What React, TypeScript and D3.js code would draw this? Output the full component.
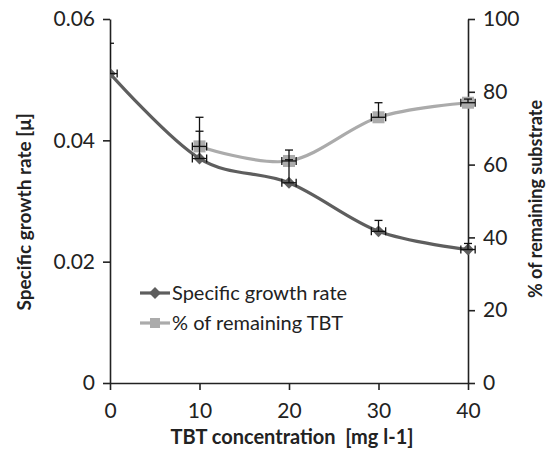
import React, { useEffect, useRef } from "react";
import * as d3 from "d3";

// TBT concentration (mg l-1)
const concentrations = [0, 10, 20, 30, 40];
// specific growth rate (left axis), error drawn upward only
const growthRate = [0.051, 0.037, 0.033, 0.025, 0.022];
const growthErr = [0.005, 0.0045, 0.0038, 0.0018, 0.001];
// % of remaining TBT (right axis)
const remaining = [null, 65, 61, 73, 77];
const remainingErr = [0, 8, 3, 4, 1];
const xErr = 0.8;

const xTicks = [0, 10, 20, 30, 40];
const leftTicks = [0, 0.02, 0.04, 0.06];
const rightTicks = [0, 20, 40, 60, 80, 100];

const FONT = "Lato, 'Open Sans', sans-serif";

export default function App() {
  const ref = useRef<SVGSVGElement>(null);

  useEffect(() => {
    const svg = d3.select(ref.current);
    svg.selectAll("*").remove();

    const left = 110, right = 468, top = 19, bottom = 383;
    const x = d3.scaleLinear().domain([0, 40]).range([left, right]);
    const yL = d3.scaleLinear().domain([0, 0.06]).range([bottom, top]);
    const yR = d3.scaleLinear().domain([0, 100]).range([bottom, top]);

    svg.append("defs").append("clipPath").attr("id", "plot")
      .append("rect").attr("x", left).attr("y", 0).attr("width", right - left + 20).attr("height", bottom);

    const axisCol = "#222";

    // x axis
    const xa = svg.append("g").attr("transform", `translate(0,${bottom})`)
      .call(d3.axisBottom(x).tickValues(xTicks).tickSize(7).tickSizeOuter(0).tickPadding(6));
    // left axis
    const la = svg.append("g").attr("transform", `translate(${left},0)`)
      .call(d3.axisLeft(yL).tickValues(leftTicks).tickSize(7).tickSizeOuter(0).tickPadding(8)
        .tickFormat(d => (d === 0 ? "0" : d3.format(".2f")(d as number))));
    // right axis
    const ra = svg.append("g").attr("transform", `translate(${right},0)`)
      .call(d3.axisRight(yR).tickValues(rightTicks).tickSize(7).tickSizeOuter(0).tickPadding(8));

    [xa, la, ra].forEach(g => {
      g.select(".domain").attr("stroke", axisCol).attr("stroke-width", 1.6);
      g.selectAll(".tick line").attr("stroke", axisCol).attr("stroke-width", 1.6);
      g.selectAll(".tick text").attr("font-family", FONT).attr("font-size", 21).attr("fill", "#222");
    });
    xa.selectAll(".tick text").attr("dy", "1.05em");

    const plot = svg.append("g").attr("clip-path", "url(#plot)");

    const line = d3.line<[number, number]>().curve(d3.curveCatmullRom.alpha(0));

    const growthPts: [number, number][] = concentrations.map((c, i) => [x(c), yL(growthRate[i])]);
    const remPts: [number, number][] = concentrations
      .map((c, i) => [c, remaining[i]] as [number, number | null])
      .filter(d => d[1] != null)
      .map(d => [x(d[0]), yR(d[1] as number)]);

    const dark = "#5e5e5e", light = "#ababab";

    plot.append("path").attr("d", line(remPts)).attr("fill", "none").attr("stroke", light).attr("stroke-width", 3.2);
    plot.append("path").attr("d", line(growthPts)).attr("fill", "none").attr("stroke", dark).attr("stroke-width", 3.2);

    const diamond = d3.symbol().type(d3.symbolDiamond2).size(90);
    remPts.forEach(p =>
      plot.append("rect").attr("x", p[0] - 6).attr("y", p[1] - 6).attr("width", 12).attr("height", 12).attr("fill", light));
    growthPts.forEach(p =>
      plot.append("path").attr("d", diamond()).attr("transform", `translate(${p[0]},${p[1]})`).attr("fill", dark));

    // error bars: plus direction vertically, both directions horizontally
    const errBar = (cx: number, cy: number, yTop: number) => {
      const g = plot.append("g").attr("stroke", "#111").attr("stroke-width", 1.3);
      const cap = 4;
      g.append("line").attr("x1", cx).attr("x2", cx).attr("y1", yTop).attr("y2", cy);
      g.append("line").attr("x1", cx - cap).attr("x2", cx + cap).attr("y1", yTop).attr("y2", yTop);
      const dx = x(xErr) - x(0);
      g.append("line").attr("x1", cx - dx).attr("x2", cx + dx).attr("y1", cy).attr("y2", cy);
      g.append("line").attr("x1", cx - dx).attr("x2", cx - dx).attr("y1", cy - cap).attr("y2", cy + cap);
      g.append("line").attr("x1", cx + dx).attr("x2", cx + dx).attr("y1", cy - cap).attr("y2", cy + cap);
    };

    concentrations.forEach((c, i) => {
      errBar(x(c), yL(growthRate[i]), yL(growthRate[i] + growthErr[i]));
      const r = remaining[i];
      if (r != null) errBar(x(c), yR(r), yR(r + remainingErr[i]));
    });

    // legend
    const lg = svg.append("g");
    const items = [
      { label: "Specific growth rate", color: dark, kind: "diamond" },
      { label: "% of remaining TBT", color: light, kind: "square" },
    ];
    items.forEach((it, i) => {
      const ly = 293 + i * 30;
      lg.append("line").attr("x1", 140).attr("x2", 170).attr("y1", ly).attr("y2", ly)
        .attr("stroke", it.color).attr("stroke-width", 3.2);
      if (it.kind === "diamond")
        lg.append("path").attr("d", diamond()).attr("transform", `translate(155,${ly})`).attr("fill", it.color);
      else
        lg.append("rect").attr("x", 150).attr("y", ly - 5).attr("width", 10).attr("height", 10).attr("fill", it.color);
      lg.append("text").attr("x", 172).attr("y", ly + 7).attr("font-family", FONT).attr("font-size", 20)
        .attr("fill", "#222").text(it.label);
    });

    // axis titles
    svg.append("text").attr("x", 292).attr("y", 444).attr("text-anchor", "middle")
      .style("white-space", "pre")
      .attr("font-family", FONT).attr("font-weight", "bold").attr("font-size", 20).attr("fill", "#222")
      .text("TBT concentration  [mg l-1]");
    svg.append("text").attr("transform", `translate(31,212) rotate(-90)`)
      .attr("text-anchor", "middle").attr("font-family", FONT).attr("font-weight", "bold")
      .attr("font-size", 19).attr("fill", "#222").text("Specific growth rate [\u03bc]");
    svg.append("text").attr("transform", `translate(542,199) rotate(-90)`)
      .attr("text-anchor", "middle").attr("font-family", FONT).attr("font-weight", "bold")
      .attr("font-size", 18).attr("fill", "#222").text("% of remaining substrate");
  }, []);

  return (
    <svg ref={ref} width={549} height={452}
      style={{ position: "absolute", left: 0, top: 0, background: "#fff" }} />
  );
}
